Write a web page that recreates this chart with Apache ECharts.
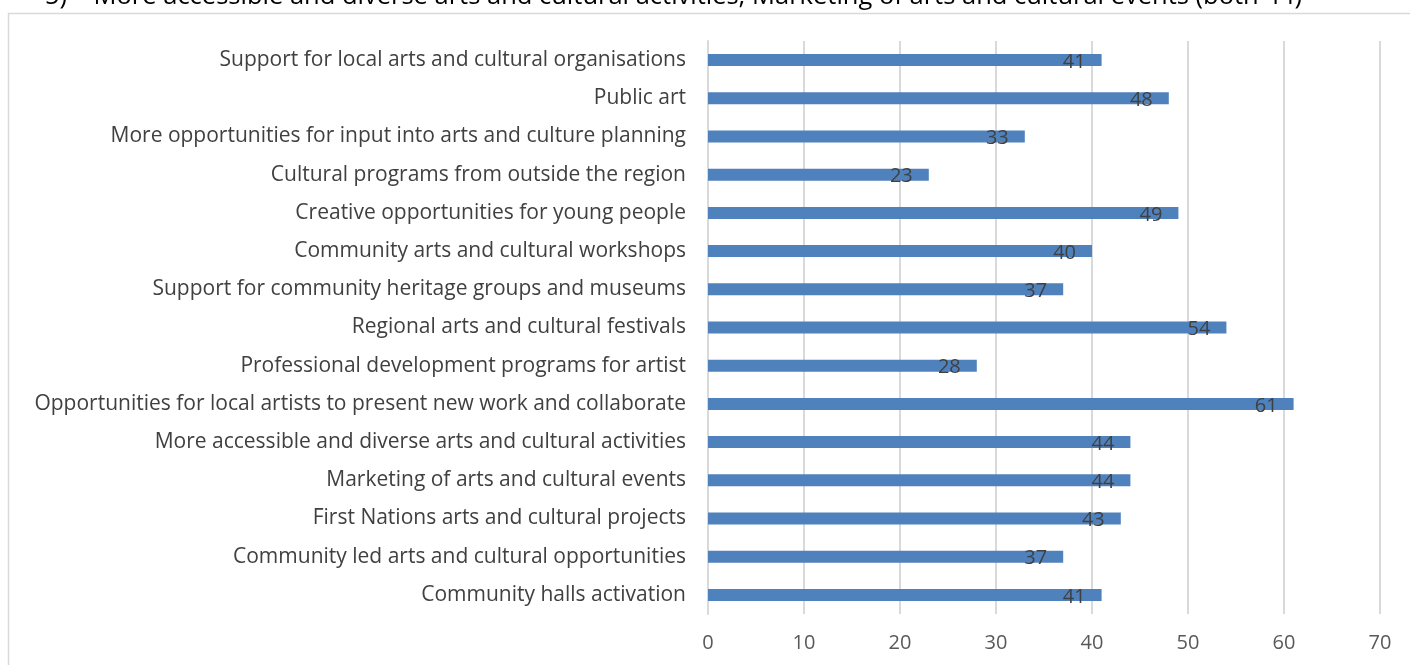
<!DOCTYPE html>
<html>
<head>
<meta charset="utf-8">
<script src="https://cdn.jsdelivr.net/npm/echarts@6/dist/echarts.min.js"></script>
<style>
  html, body { margin: 0; padding: 0; background: #fff; }
  #chart { width: 1410px; height: 665px; }
</style>
</head>
<body>
<div id="chart"></div>
<script>
// Responses per arts & culture priority (listed bottom to top on the chart)
const categories = [
  'Community halls activation',
  'Community led arts and cultural opportunities',
  'First Nations arts and cultural projects',
  'Marketing of arts and cultural events',
  'More accessible and diverse arts and cultural activities',
  'Opportunities for local artists to present new work and collaborate',
  'Professional development programs for artist',
  'Regional arts and cultural festivals',
  'Support for community heritage groups and museums',
  'Community arts and cultural workshops',
  'Creative opportunities for young people',
  'Cultural programs from outside the region',
  'More opportunities for input into arts and culture planning',
  'Public art',
  'Support for local arts and cultural organisations'
];
const counts = [41, 37, 43, 44, 44, 61, 28, 54, 37, 40, 49, 23, 33, 48, 41];
const headingText = '5)    More accessible and diverse arts and cultural activities; Marketing of arts and cultural events (both 44)';

const FONT = '"Open Sans", Lato, sans-serif';
const chart = echarts.init(document.getElementById('chart'));
chart.setOption({
  animation: false,
  backgroundColor: '#fff',
  graphic: [
    {
      type: 'rect', silent: true,
      shape: { x: 8.5, y: 13.5, width: 1440, height: 700 },
      style: { fill: 'none', stroke: '#d9d9d9', lineWidth: 1.5 }
    },
    {
      type: 'text', silent: true, left: 45, top: -16,
      style: { text: headingText, font: '25.5px ' + FONT, fill: '#000' }
    }
  ],
  grid: { left: 708, right: 30, top: 41, bottom: 51, containLabel: false },
  xAxis: {
    type: 'value', min: 0, max: 70, interval: 10,
    axisLine: { show: false }, axisTick: { show: false },
    splitLine: { lineStyle: { color: '#d9d9d9', width: 2 } },
    axisLabel: { color: '#595959', fontSize: 20, fontFamily: FONT, margin: 19 }
  },
  yAxis: {
    type: 'category', data: categories,
    axisLine: { lineStyle: { color: '#d9d9d9', width: 2 } },
    axisTick: { show: false },
    axisLabel: { color: '#404040', fontSize: 21, fontFamily: FONT, margin: 22, padding: [3, 0, 0, 0] }
  },
  series: [{
    type: 'bar', data: counts, barWidth: 12,
    itemStyle: { color: '#4f81bd' },
    label: {
      show: true, position: 'insideRight', distance: 16,
      color: '#404040', fontSize: 20, fontFamily: FONT, offset: [0, 2]
    }
  }]
});
</script>
</body>
</html>
